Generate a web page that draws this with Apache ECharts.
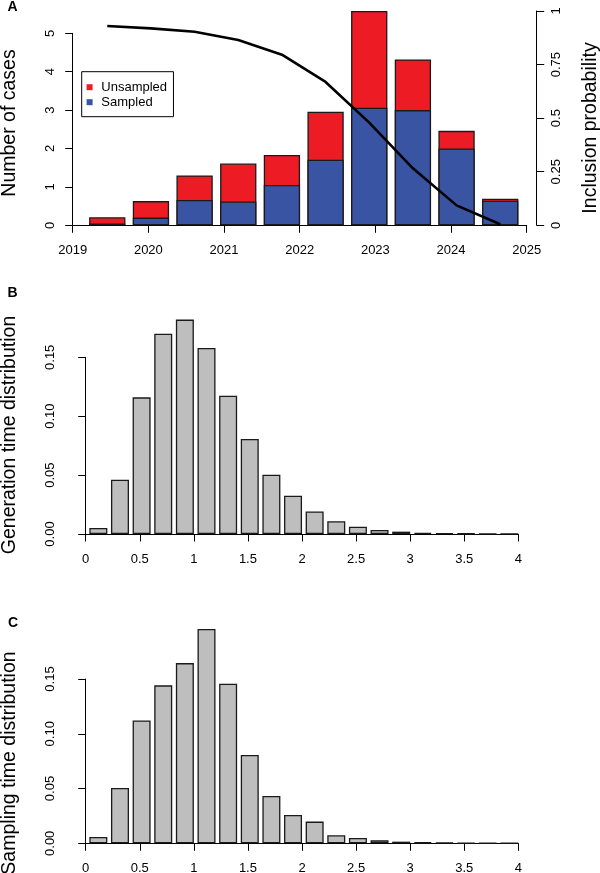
<!DOCTYPE html>
<html>
<head>
<meta charset="utf-8">
<script src="https://cdn.jsdelivr.net/npm/echarts@6/dist/echarts.min.js"></script>
<style>
html,body{margin:0;padding:0;background:#fff;}
#chart{width:600px;height:873px;}
</style>
</head>
<body>
<div id="chart"></div>
<script>
// ---- Panel A data ----
const periodMid = [2019.457, 2020.034, 2020.611, 2021.188, 2021.765, 2022.342, 2022.919, 2023.496, 2024.073, 2024.650];
const sampled   = [0.05, 0.20, 0.66, 0.62, 1.05, 1.71, 3.06, 3.00, 2.00, 0.64];
const unsampled = [0.16, 0.43, 0.64, 0.99, 0.78, 1.25, 2.52, 1.32, 0.46, 0.05];
const inclusionProb = [0.930, 0.919, 0.903, 0.865, 0.796, 0.669, 0.479, 0.266, 0.093, 0.005];
const yearTicks = [2019, 2020, 2021, 2022, 2023, 2024, 2025];

// ---- Panels B and C data ----
const binMid = [0.117, 0.317, 0.517, 0.717, 0.917, 1.117, 1.317, 1.517, 1.717, 1.917,
                2.117, 2.317, 2.517, 2.717, 2.917, 3.117, 3.317, 3.517, 3.717, 3.917];
const generationTime = [0.0051, 0.0461, 0.1160, 0.1700, 0.1820, 0.1580, 0.1174, 0.0806, 0.0504, 0.0325,
                        0.0192, 0.0108, 0.0062, 0.0034, 0.0020, 0.0011, 0.0007, 0.0004, 0.0002, 0.0001];
const samplingTime = [0.0058, 0.0505, 0.1122, 0.1442, 0.1645, 0.1956, 0.1457, 0.0806, 0.0432, 0.0259,
                      0.0198, 0.0073, 0.0049, 0.0027, 0.0015, 0.0010, 0.0006, 0.0004, 0.0003, 0.0002];

const FONT = '"Liberation Sans", Arial, Helvetica, sans-serif';
const BLACK = '#000';

const chart = echarts.init(document.getElementById('chart'), null, {renderer: 'canvas'});

function pairs(xs, ys) { return xs.map((x, i) => [x, ys[i]]); }
// stacked bar tops (sampled at the bottom, unsampled on top)
const totalCases = sampled.map((s, i) => s + unsampled[i]);

const axisCommon = {
  axisLine: {show: true, lineStyle: {color: BLACK, width: 1}},
  axisTick: {show: true, length: 7.5, lineStyle: {color: BLACK, width: 1}},
  splitLine: {show: false},
  axisLabel: {color: BLACK, fontFamily: FONT, fontSize: 13, lineHeight: 13}
};

function xAxisDef(gridIndex, min, max, interval) {
  return {
    type: 'value', gridIndex, min, max, interval, offset: 2,
    axisLine: axisCommon.axisLine, axisTick: axisCommon.axisTick, splitLine: axisCommon.splitLine,
    axisLabel: Object.assign({}, axisCommon.axisLabel, {margin: 16.5, formatter: v => String(v)})
  };
}
function yAxisDef(gridIndex, min, max, interval, position, offset, margin, formatter) {
  return {
    type: 'value', gridIndex, min, max, interval, position, offset,
    axisLine: axisCommon.axisLine, axisTick: axisCommon.axisTick, splitLine: axisCommon.splitLine,
    axisLabel: Object.assign({}, axisCommon.axisLabel, {rotate: 90, margin, formatter})
  };
}

const barBorder = {borderColor: '#1a1a1a', borderWidth: 1.3};

const option = {
  animation: false,
  backgroundColor: '#fff',
  grid: [
    {left: 72.7, top: 33.3, width: 454, height: 192, outerBoundsMode: 'none'},   // A bars (0..5)
    {left: 72.7, top: 11, width: 454, height: 214.3, outerBoundsMode: 'none'},   // A line (0..1)
    {left: 85.7, top: 357.3, width: 432.6, height: 176.7, outerBoundsMode: 'none'}, // B
    {left: 85.7, top: 679, width: 432.6, height: 164.3, outerBoundsMode: 'none'}    // C
  ],
  xAxis: [
    xAxisDef(0, yearTicks[0], yearTicks[yearTicks.length - 1], 1),
    {type: 'value', gridIndex: 1, min: 2019, max: 2025, show: false},
    xAxisDef(2, 0, 4, 0.5),
    xAxisDef(3, 0, 4, 0.5)
  ],
  yAxis: [
    yAxisDef(0, 0, 5, 1, 'left', 0, 16, v => String(v)),
    yAxisDef(1, 0, 1, 0.25, 'right', 10, 13, v => String(v)),
    yAxisDef(2, 0, 0.15, 0.05, 'left', 13, 16, v => v.toFixed(2)),
    yAxisDef(3, 0, 0.15, 0.05, 'left', 13, 16, v => v.toFixed(2))
  ],
  legend: {
    data: ['Unsampled', 'Sampled'],
    orient: 'vertical',
    left: 81.7, top: 71.7,
    itemWidth: 13.4, itemHeight: 6, itemGap: 0,
    icon: 'path://M0 0H10V10H0Z',
    itemStyle: {borderWidth: 0},
    padding: [8, 6.4, 7, 4.9],
    borderColor: BLACK, borderWidth: 1, borderRadius: 0,
    backgroundColor: '#fff',
    selectedMode: false,
    textStyle: {fontFamily: FONT, fontSize: 13, lineHeight: 15, color: BLACK}
  },
  graphic: [
    {type: 'text', x: 12.5, y: 7.5, style: {text: 'A', fontFamily: FONT, fontSize: 14, fontWeight: 'bold', fill: BLACK, align: 'center', verticalAlign: 'middle'}},
    {type: 'text', x: 12.5, y: 293, style: {text: 'B', fontFamily: FONT, fontSize: 14, fontWeight: 'bold', fill: BLACK, align: 'center', verticalAlign: 'middle'}},
    {type: 'text', x: 13, y: 623, style: {text: 'C', fontFamily: FONT, fontSize: 14, fontWeight: 'bold', fill: BLACK, align: 'center', verticalAlign: 'middle'}},
    {type: 'text', x: 10, y: 123, rotation: Math.PI / 2, style: {text: 'Number of cases', fontFamily: FONT, fontSize: 19.5, fill: BLACK, align: 'center', verticalAlign: 'middle'}},
    {type: 'text', x: 591, y: 128, rotation: Math.PI / 2, style: {text: 'Inclusion probability', fontFamily: FONT, fontSize: 19.5, fill: BLACK, align: 'center', verticalAlign: 'middle'}},
    {type: 'text', x: 10, y: 435, rotation: Math.PI / 2, style: {text: 'Generation time distribution', fontFamily: FONT, fontSize: 19.5, fill: BLACK, align: 'center', verticalAlign: 'middle'}},
    {type: 'text', x: 10, y: 763, rotation: Math.PI / 2, style: {text: 'Sampling time distribution', fontFamily: FONT, fontSize: 19.5, fill: BLACK, align: 'center', verticalAlign: 'middle'}}
  ],
  series: [
    {
      name: 'Unsampled', type: 'bar', xAxisIndex: 0, yAxisIndex: 0,
      data: pairs(periodMid, totalCases), barWidth: 36.3, barGap: '-100%', clip: false,
      itemStyle: Object.assign({color: '#ED1C24'}, barBorder)
    },
    {
      name: 'Sampled', type: 'bar', xAxisIndex: 0, yAxisIndex: 0,
      data: pairs(periodMid, sampled), barWidth: 36.3, barGap: '-100%', clip: false,
      itemStyle: Object.assign({color: '#3A54A4'}, barBorder)
    },
    {
      name: 'Inclusion probability', type: 'line', xAxisIndex: 1, yAxisIndex: 1,
      data: pairs(periodMid, inclusionProb), showSymbol: false, symbol: 'none', clip: false, z: 5,
      lineStyle: {color: BLACK, width: 2.6}
    },
    {
      name: 'Generation time', type: 'bar', xAxisIndex: 2, yAxisIndex: 2,
      data: pairs(binMid, generationTime), barWidth: 18, clip: false,
      itemStyle: Object.assign({color: '#BEBEBE'}, barBorder)
    },
    {
      name: 'Sampling time', type: 'bar', xAxisIndex: 3, yAxisIndex: 3,
      data: pairs(binMid, samplingTime), barWidth: 18, clip: false,
      itemStyle: Object.assign({color: '#BEBEBE'}, barBorder)
    }
  ]
};

chart.setOption(option);
</script>
</body>
</html>
